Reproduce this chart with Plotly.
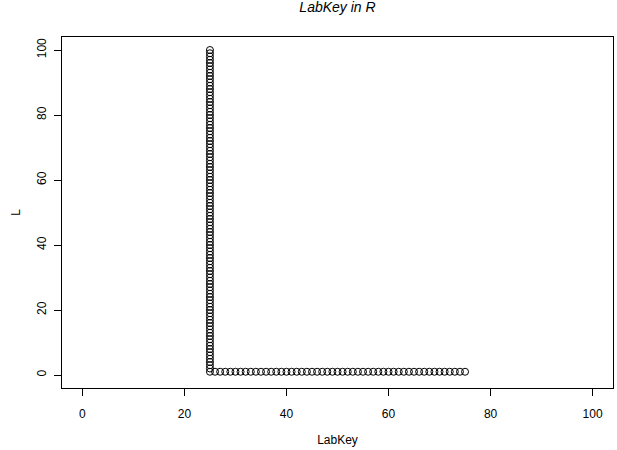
import plotly.graph_objects as go

# Data values
labkey = [25, 25, 25, 25, 25, 25, 25, 25, 25, 25,
          25, 25, 25, 25, 25, 25, 25, 25, 25, 25,
          25, 25, 25, 25, 25, 25, 25, 25, 25, 25,
          25, 25, 25, 25, 25, 25, 25, 25, 25, 25,
          25, 25, 25, 25, 25, 25, 25, 25, 25, 25,
          25, 25, 25, 25, 25, 25, 25, 25, 25, 25,
          25, 25, 25, 25, 25, 25, 25, 25, 25, 25,
          25, 25, 25, 25, 25, 25, 25, 25, 25, 25,
          25, 25, 25, 25, 25, 25, 25, 25, 25, 25,
          25, 25, 25, 25, 25, 25, 25, 25, 25, 25,
          26, 27, 28, 29, 30, 31, 32, 33, 34, 35,
          36, 37, 38, 39, 40, 41, 42, 43, 44, 45,
          46, 47, 48, 49, 50, 51, 52, 53, 54, 55,
          56, 57, 58, 59, 60, 61, 62, 63, 64, 65,
          66, 67, 68, 69, 70, 71, 72, 73, 74, 75]
l_values = [1, 2, 3, 4, 5, 6, 7, 8, 9, 10,
            11, 12, 13, 14, 15, 16, 17, 18, 19, 20,
            21, 22, 23, 24, 25, 26, 27, 28, 29, 30,
            31, 32, 33, 34, 35, 36, 37, 38, 39, 40,
            41, 42, 43, 44, 45, 46, 47, 48, 49, 50,
            51, 52, 53, 54, 55, 56, 57, 58, 59, 60,
            61, 62, 63, 64, 65, 66, 67, 68, 69, 70,
            71, 72, 73, 74, 75, 76, 77, 78, 79, 80,
            81, 82, 83, 84, 85, 86, 87, 88, 89, 90,
            91, 92, 93, 94, 95, 96, 97, 98, 99, 100,
            1, 1, 1, 1, 1, 1, 1, 1, 1, 1,
            1, 1, 1, 1, 1, 1, 1, 1, 1, 1,
            1, 1, 1, 1, 1, 1, 1, 1, 1, 1,
            1, 1, 1, 1, 1, 1, 1, 1, 1, 1,
            1, 1, 1, 1, 1, 1, 1, 1, 1, 1]
x_ticks = [0, 20, 40, 60, 80, 100]
y_ticks = [0, 20, 40, 60, 80, 100]

FONT = "Liberation Sans, Arial, sans-serif"

fig = go.Figure()
fig.add_trace(go.Scatter(
    x=labkey, y=l_values, mode="markers",
    marker=dict(symbol="circle-open", size=7, color="black", line=dict(width=1, color="black")),
    showlegend=False, hoverinfo="skip",
))

axis_common = dict(
    showgrid=False, zeroline=False, showline=True, mirror=True,
    linecolor="black", linewidth=1, ticks="outside", ticklen=7,
    tickcolor="black", tickwidth=1, automargin=False,
    tickfont=dict(family=FONT, size=12, color="black"),
)

fig.update_layout(
    width=617, height=450,
    paper_bgcolor="white", plot_bgcolor="white",
    margin=dict(l=62, r=4, t=37, b=62),
    title=dict(text="<i>LabKey in R</i>", x=(62 + 613) / 2 / 617, xanchor="center",
               y=1 - 7 / 450, yanchor="middle", automargin=False,
               font=dict(family=FONT, size=14, color="black")),
    xaxis=dict(range=[-4, 104], tickvals=x_ticks, ticktext=[str(v) for v in x_ticks],
               ticklabelstandoff=8,
               title=dict(text="LabKey", font=dict(family=FONT, size=12, color="black"), standoff=15),
               **axis_common),
    yaxis=dict(range=[-4, 104], tickvals=y_ticks, ticktext=[str(v) for v in y_ticks],
               tickangle=-90, ticklabelstandoff=3,
               title=dict(text="L", font=dict(family=FONT, size=12, color="black"), standoff=12),
               **axis_common),
)

fig.write_html("out.html", config={"displayModeBar": False},
               post_script="document.body.style.margin='0';")
